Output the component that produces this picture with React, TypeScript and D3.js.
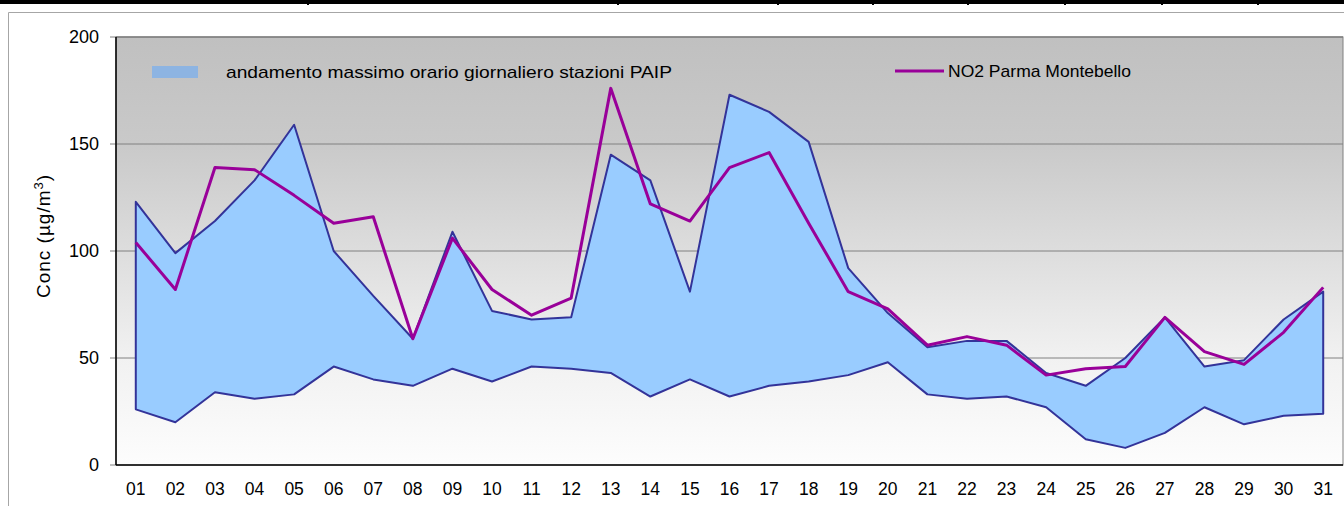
import React from "react";
import * as d3 from "d3";

// giorni del mese
const days = [
  "01", "02", "03", "04", "05", "06", "07", "08", "09", "10",
  "11", "12", "13", "14", "15", "16", "17", "18", "19", "20",
  "21", "22", "23", "24", "25", "26", "27", "28", "29", "30", "31",
];

// massimo orario giornaliero stazioni PAIP: valore massimo e minimo
const paipMax = [
  123, 99, 114, 133, 159, 100, 79, 59, 109, 72,
  68, 69, 145, 133, 81, 173, 165, 151, 92, 71,
  55, 58, 58, 43, 37, 50, 69, 46, 49, 68, 81,
];
const paipMin = [
  26, 20, 34, 31, 33, 46, 40, 37, 45, 39,
  46, 45, 43, 32, 40, 32, 37, 39, 42, 48,
  33, 31, 32, 27, 12, 8, 15, 27, 19, 23, 24,
];

// NO2 Parma Montebello
const no2Montebello = [
  104, 82, 139, 138, 126, 113, 116, 59, 106, 82,
  70, 78, 176, 122, 114, 139, 146, 113, 81, 73,
  56, 60, 56, 42, 45, 46, 69, 53, 47, 62, 83,
];

const yTicks = [0, 50, 100, 150, 200];
const topDividers = [308, 618, 778, 873, 968, 1065, 1162, 1258];

const W = 1344;
const H = 506;
const plot = { left: 116, right: 1343, top: 37, bottom: 465 };

export default function App() {
  const x = d3
    .scaleBand<string>()
    .domain(days)
    .range([plot.left, plot.right])
    .padding(0);
  const cx = (d: string) => (x(d) as number) + x.bandwidth() / 2;

  const y = d3.scaleLinear().domain([0, 200]).range([plot.bottom, plot.top]);

  const band = d3
    .area<number>()
    .x((_, i) => cx(days[i]))
    .y0((_, i) => y(paipMin[i]))
    .y1((d) => y(d));

  const line = d3
    .line<number>()
    .x((_, i) => cx(days[i]))
    .y((d) => y(d));

  const font = "'Liberation Sans', Arial, sans-serif";

  return (
    <svg
      width={W}
      height={H}
      style={{ position: "absolute", left: 0, top: 0, background: "#fff" }}
      fontFamily={font}
    >
      <defs>
        <linearGradient id="bg" x1="0" y1="0" x2="0" y2="1">
          <stop offset="0" stopColor="#c0c0c0" />
          <stop offset="0.25" stopColor="#c9c9c9" />
          <stop offset="0.5" stopColor="#dddddd" />
          <stop offset="0.75" stopColor="#f1f1f1" />
          <stop offset="1" stopColor="#fdfdfd" />
        </linearGradient>
      </defs>

      {/* bordo tabella in alto */}
      <rect x={0} y={0} width={W} height={4} fill="#000" />
      {topDividers.map((d) => (
        <rect key={d} x={d - 1} y={0} width={2} height={5} fill="#000" />
      ))}

      {/* cornice area grafico */}
      <path d={`M8.5,${H} V12.5 H${W}`} fill="none" stroke="#a6a6a6" strokeWidth={1} />

      {/* sfondo area tracciato */}
      <rect
        x={plot.left}
        y={plot.top}
        width={plot.right - plot.left}
        height={plot.bottom - plot.top}
        fill="url(#bg)"
        stroke="#808080"
        strokeWidth={1}
      />

      {/* griglia e tacche */}
      {yTicks.map((t) => (
        <g key={t}>
          {t > 0 && (
            <line x1={plot.left} x2={plot.right} y1={y(t)} y2={y(t)} stroke="#808080" strokeWidth={t === 200 ? 1.5 : 1} />
          )}
          <line x1={plot.left - 6} x2={plot.left} y1={y(t)} y2={y(t)} stroke="#808080" strokeWidth={1} />
          <text x={99} y={y(t)} dy="0.35em" textAnchor="end" fontSize={18} fill="#000">
            {t}
          </text>
        </g>
      ))}

      {/* fascia PAIP */}
      <path d={band(paipMax) ?? ""} fill="#99ccff" stroke="#333399" strokeWidth={2} strokeLinejoin="round" />

      {/* NO2 Parma Montebello */}
      <path d={line(no2Montebello) ?? ""} fill="none" stroke="#990099" strokeWidth={3} strokeLinejoin="round" />

      {/* assi */}
      <line x1={plot.left} x2={plot.left} y1={plot.top} y2={plot.bottom} stroke="#000" strokeWidth={1.5} />
      <line x1={plot.left} x2={plot.right} y1={plot.bottom} y2={plot.bottom} stroke="#000" strokeWidth={1.5} />

      {days.map((d) => (
        <text key={d} x={cx(d)} y={495} textAnchor="middle" fontSize={17.5} fill="#000">
          {d}
        </text>
      ))}

      <text
        transform={`translate(50, 236) rotate(-90)`}
        textAnchor="middle"
        fontSize={19}
        letterSpacing={1}
        fill="#000"
      >
        Conc (µg/m<tspan dy={-7} fontSize={13}>3</tspan>
        <tspan dy={7}>)</tspan>
      </text>

      {/* legenda */}
      <rect x={152} y={66} width={46} height={12} fill="#8db4e2" />
      <text x={226} y={78} fontSize={17} fill="#000" textLength={446} lengthAdjust="spacingAndGlyphs">
        andamento massimo orario giornaliero stazioni PAIP
      </text>
      <line x1={895} x2={944} y1={71} y2={71} stroke="#990099" strokeWidth={3} />
      <text x={948} y={77} fontSize={17} fill="#000" textLength={183} lengthAdjust="spacingAndGlyphs">
        NO2 Parma Montebello
      </text>
    </svg>
  );
}
